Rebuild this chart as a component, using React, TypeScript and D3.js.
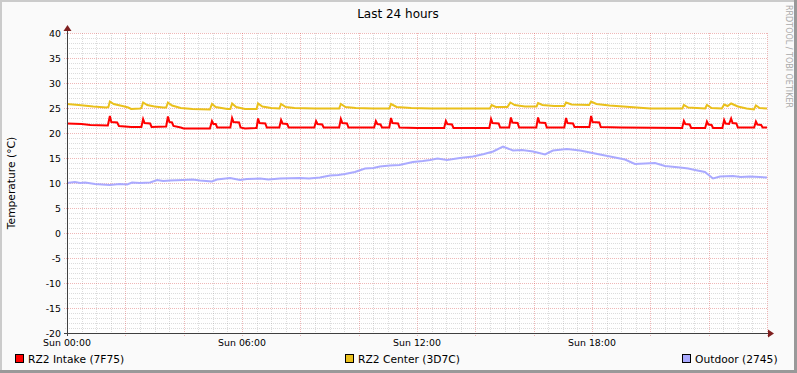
import React from 'react';
import * as d3 from 'd3';

const W = 797;
const H = 373;

const title = 'Last 24 hours';
const yLabel = 'Temperature (°C)';
const watermark = 'RRDTOOL / TOBI OETIKER';
const yTickValues = [40, 35, 30, 25, 20, 15, 10, 5, 0, -5, -10, -15, -20];
const xTickHours = [0, 6, 12, 18];
const xTickLabels = ['Sun 00:00', 'Sun 06:00', 'Sun 12:00', 'Sun 18:00'];
const seriesNames = ['RZ2 Intake (7F75)', 'RZ2 Center (3D7C)', 'Outdoor (2745)'];
const seriesColors = ['#ff0000', '#eac01c', '#aaaaff'];

// [hour since 00:00, °C]
const intake: [number, number][] = [
  [0, 21.9], [0.5, 21.8], [0.8, 21.6], [1.4, 21.5],
  [1.47, 23.4], [1.52, 22.2], [1.72, 22.1], [1.78, 21.4], [2.2, 21.2],
  [2.55, 21.2], [2.61, 22.8], [2.66, 22.0], [2.85, 21.9], [2.9, 21.2],
  [3.4, 21.3], [3.46, 23.3], [3.51, 22.2], [3.6, 22.1], [3.65, 21.4], [3.9, 21.1], [4.0, 20.9],
  [4.9, 20.9], [4.97, 22.4], [5.02, 21.8], [5.1, 21.8], [5.15, 21.1],
  [5.6, 21.1], [5.66, 23.0], [5.71, 22.2], [5.9, 22.1], [5.95, 21.1], [6.1, 20.9],
  [6.5, 21.0], [6.55, 22.9], [6.6, 22.0], [6.8, 21.9], [6.85, 21.1],
  [7.28, 21.1], [7.34, 22.6], [7.39, 21.9], [7.55, 21.8], [7.6, 21.1],
  [8.48, 21.1], [8.54, 22.4], [8.59, 21.8], [8.75, 21.7], [8.8, 21.1],
  [9.33, 21.1], [9.39, 22.8], [9.44, 22.0], [9.6, 21.9], [9.65, 21.1],
  [10.53, 21.1], [10.59, 22.4], [10.64, 21.8], [10.75, 21.7], [10.8, 21.1],
  [11.05, 21.1], [11.11, 23.0], [11.16, 22.0], [11.35, 21.9], [11.4, 21.1],
  [12.0, 21.0], [12.93, 21.0], [12.99, 22.4], [13.04, 21.8], [13.2, 21.7], [13.25, 21.0],
  [14.48, 21.0], [14.54, 22.8], [14.59, 22.0], [14.8, 21.9], [14.85, 21.1],
  [15.16, 21.1], [15.22, 23.1], [15.27, 22.1], [15.45, 22.0], [15.5, 21.1],
  [16.09, 21.1], [16.15, 23.1], [16.2, 22.1], [16.4, 22.0], [16.45, 21.1],
  [17.05, 21.1], [17.11, 23.0], [17.16, 22.0], [17.35, 21.9], [17.4, 21.2],
  [17.91, 21.2], [17.97, 23.4], [18.02, 22.2], [18.25, 22.1], [18.3, 21.2],
  [19.0, 21.1], [21.09, 21.0], [21.15, 22.4], [21.2, 21.8], [21.35, 21.7], [21.4, 21.0],
  [21.88, 21.0], [21.94, 22.3], [21.99, 21.7], [22.1, 21.6], [22.15, 21.0],
  [22.47, 21.0], [22.53, 22.6], [22.58, 21.9], [22.7, 21.8], [22.77, 22.9], [22.82, 22.0],
  [22.95, 21.9], [23.0, 21.1],
  [23.56, 21.1], [23.62, 22.3], [23.67, 21.7], [23.8, 21.6], [23.85, 21.1], [24, 21.1],
];

const center: [number, number][] = [
  [0, 25.8], [0.4, 25.6], [0.9, 25.3], [1.35, 25.1], [1.42, 25.2], [1.47, 26.3], [1.6, 25.8],
  [1.9, 25.4], [2.1, 25.1], [2.2, 24.8], [2.5, 24.9], [2.55, 25.0], [2.61, 26.1], [2.75, 25.6],
  [3.0, 25.3], [3.3, 25.1], [3.4, 25.1], [3.46, 26.1], [3.6, 25.5], [3.9, 25.0], [4.3, 24.8],
  [4.9, 24.7], [4.97, 25.8], [5.1, 25.2], [5.5, 24.8], [5.6, 24.8], [5.66, 25.9], [5.8, 25.2],
  [6.1, 24.8], [6.5, 24.8], [6.55, 25.9], [6.7, 25.3], [7.0, 25.0], [7.28, 24.9], [7.34, 25.8],
  [7.5, 25.2], [7.8, 25.0], [8.5, 24.9], [9.33, 24.9], [9.39, 25.8], [9.55, 25.2], [9.9, 25.0],
  [10.5, 24.9], [11.05, 24.9], [11.11, 25.8], [11.3, 25.2], [11.8, 25.0], [12.5, 24.9],
  [14.5, 24.9], [14.56, 25.6], [14.7, 25.2], [15.1, 25.2], [15.2, 26.1], [15.35, 25.6],
  [15.7, 25.3], [16.1, 25.3], [16.15, 26.0], [16.3, 25.6], [16.7, 25.4], [17.05, 25.4],
  [17.11, 26.1], [17.3, 25.7], [17.9, 25.6], [17.97, 26.3], [18.15, 25.8], [18.6, 25.5],
  [19.3, 25.2], [20.0, 24.9], [21.1, 24.9], [21.15, 25.6], [21.3, 25.1], [21.88, 24.9],
  [21.94, 25.6], [22.1, 25.0], [22.45, 24.9], [22.53, 25.7], [22.65, 25.4], [22.77, 25.9],
  [23.0, 25.3], [23.3, 24.9], [23.55, 24.7], [23.62, 25.5], [23.75, 25.0], [24, 24.9],
];

const outdoor: [number, number][] = [
  [0, 10.0], [0.27, 10.2], [0.45, 10.0], [0.62, 10.1], [0.96, 9.8], [1.2, 9.7], [1.47, 9.6],
  [1.8, 9.8], [2.06, 9.7], [2.23, 10.1], [2.5, 10.0], [2.85, 10.1], [3.09, 10.6], [3.3, 10.4],
  [3.53, 10.5], [3.98, 10.6], [4.3, 10.7], [4.56, 10.5], [4.97, 10.3], [5.14, 10.7],
  [5.59, 11.0], [5.93, 10.6], [6.17, 10.8], [6.62, 10.9], [6.9, 10.7], [7.3, 10.9],
  [7.99, 11.0], [8.3, 10.9], [8.67, 11.1], [9.02, 11.5], [9.3, 11.6], [9.53, 11.8],
  [9.87, 12.2], [10.22, 12.9], [10.5, 13.0], [10.73, 13.3], [11.07, 13.5], [11.4, 13.6],
  [11.86, 14.2], [12.2, 14.4], [12.45, 14.6], [12.7, 14.9], [13.03, 14.6], [13.47, 15.0],
  [13.92, 15.3], [14.3, 15.8], [14.61, 16.3], [14.95, 17.3], [15.29, 16.5], [15.6, 16.6],
  [15.98, 16.3], [16.39, 15.7], [16.66, 16.5], [17.14, 16.8], [17.59, 16.5], [18.1, 15.9],
  [18.62, 15.3], [19.13, 14.7], [19.47, 13.8], [19.82, 13.9], [20.16, 14.0], [20.5, 13.4],
  [21.02, 13.1], [21.3, 12.9], [21.53, 12.6], [21.87, 12.2], [22.15, 10.9], [22.39, 11.3],
  [22.83, 11.4], [23.1, 11.2], [23.42, 11.3], [24, 11.1],
];

const series = [intake, center, outdoor];

const font = 'DejaVu Sans, sans-serif';

export default function App() {
  const x = d3.scaleLinear().domain([0, 24]).range([67, 767]);
  const y = d3.scaleLinear().domain([-20, 40]).range([333, 33]);

  const minorX = d3.range(0, 24.01, 0.5).filter((h) => h % 2 !== 0);
  const majorX = d3.range(2, 24.01, 2);
  const minorY = d3.range(-20, 40.01, 1).filter((v) => v % 5 !== 0);
  const majorY = yTickValues.filter((v) => v !== -20);

  const line = d3
    .line<[number, number]>()
    .x((d) => x(d[0]))
    .y((d) => y(d[1]));

  const [x0, x1] = x.range();
  const [y0, y1] = y.range();

  const legendX = [15, 345, 682];

  return (
    <div style={{ position: 'fixed', left: 0, top: 0 }}>
      <svg width={W} height={H} style={{ display: 'block', fontFamily: font }}>
        <rect x={0} y={0} width={W} height={H} fill="#fafafa" />
        {/* shading */}
        <rect x={0} y={0} width={W} height={2} fill="#cbcbcb" />
        <rect x={0} y={0} width={2} height={H} fill="#cbcbcb" />
        <rect x={0} y={H - 3} width={W} height={3} fill="#999999" />
        <rect x={W - 3} y={0} width={3} height={H} fill="#999999" />
        <rect x={x0} y={y1} width={x1 - x0} height={y0 - y1} fill="#ffffff" />

        <text x={398} y={18} textAnchor="middle" fontSize={12}>
          {title}
        </text>

        {/* minor grid */}
        <g stroke="rgba(140,140,140,0.3)" strokeWidth={1} strokeDasharray="1,1" shapeRendering="crispEdges">
          {minorX.map((h) => (
            <line key={'mx' + h} x1={x(h) + 0.5} x2={x(h) + 0.5} y1={y1} y2={y0 + 2} />
          ))}
          {minorY.map((v) => (
            <line key={'my' + v} x1={x0 - 2} x2={x1} y1={y(v) + 0.5} y2={y(v) + 0.5} />
          ))}
        </g>
        {/* major grid */}
        <g stroke="rgba(210,50,50,0.35)" strokeWidth={1} strokeDasharray="1,1" shapeRendering="crispEdges">
          {majorX.map((h) => (
            <line key={'Mx' + h} x1={x(h) + 0.5} x2={x(h) + 0.5} y1={y1} y2={y0 + 3} />
          ))}
          {majorY.map((v) => (
            <line key={'My' + v} x1={x0 - 3} x2={x1} y1={y(v) + 0.5} y2={y(v) + 0.5} />
          ))}
        </g>

        {/* y tick labels */}
        <g fontSize={9.4} textAnchor="end">
          {yTickValues.map((v) => (
            <text key={v} x={61} y={y(v) + 3.5}>
              {v}
            </text>
          ))}
        </g>
        {/* x tick labels */}
        <g fontSize={9.4} textAnchor="middle">
          {xTickHours.map((h, i) => (
            <text key={h} x={x(h)} y={346}>
              {xTickLabels[i]}
            </text>
          ))}
        </g>

        <text
          transform={`translate(15,${(y0 + y1) / 2}) rotate(-90)`}
          textAnchor="middle"
          fontSize={10.7}
        >
          {yLabel}
        </text>

        <text
          transform={`translate(786,5) rotate(90)`}
          textAnchor="start"
          fontSize={8}
          fill="#aaaaaa"
        >
          {watermark}
        </text>

        <defs>
          <clipPath id="plot">
            <rect x={x0} y={y1} width={x1 - x0} height={y0 - y1} />
          </clipPath>
        </defs>
        <g clipPath="url(#plot)" fill="none" strokeWidth={2}>
          {series.map((s, i) => (
            <path key={i} d={line(s) || ''} stroke={seriesColors[i]} />
          ))}
        </g>

        {/* axes */}
        <g stroke="#404040" strokeWidth={1} shapeRendering="crispEdges">
          <line x1={x0 - 3} x2={x1 + 2} y1={y0 + 0.5} y2={y0 + 0.5} />
          <line x1={x0 + 0.5} x2={x0 + 0.5} y1={y0 + 3} y2={y1 - 3} />
        </g>
        <path d={`M${x1 + 1},${y0 - 3.5} L${x1 + 7},${y0 + 0.5} L${x1 + 1},${y0 + 4.5} Z`} fill="#7f1f1f" />
        <path d={`M${x0 - 3.5},${y1 - 2} L${x0 + 0.5},${y1 - 8} L${x0 + 4.5},${y1 - 2} Z`} fill="#7f1f1f" />

        {/* legend */}
        {seriesNames.map((name, i) => (
          <g key={name}>
            <rect x={legendX[i] + 0.5} y={354.5} width={8} height={8} fill={seriesColors[i]} stroke="#000" strokeWidth={1} />
            <text x={legendX[i] + 13} y={363} fontSize={10.7}>
              {name}
            </text>
          </g>
        ))}
      </svg>
    </div>
  );
}
